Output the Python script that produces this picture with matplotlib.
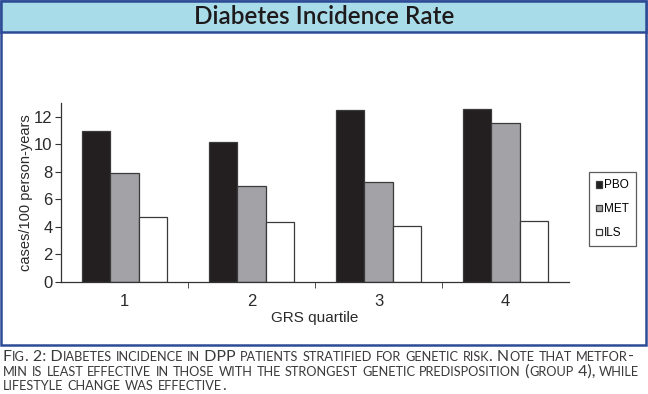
import numpy as np
import matplotlib
matplotlib.use('Agg')
import matplotlib.pyplot as plt
from matplotlib.patches import Rectangle
from matplotlib.font_manager import FontProperties

# ---- data ----
quartiles = ['1', '2', '3', '4']
groups = ['PBO', 'MET', 'ILS']
pbo = [11.0, 10.2, 12.5, 12.55]
met = [7.9, 7.0, 7.25, 11.55]
ils = [4.7, 4.35, 4.05, 4.45]
colors = ['#231f20', '#a3a3a7', '#ffffff']

title = 'Diabetes Incidence Rate'
caption = ['Fig. 2: Diabetes incidence in DPP patients stratified for genetic risk. Note that metfor-',
           'min is least effective in those with the strongest genetic predisposition (group 4), while',
           'lifestyle change was effective.']

W, H = 648, 394
fig = plt.figure(figsize=(W / 100., H / 100.), dpi=100)
fig.patch.set_facecolor('white')

def fx(px): return px / float(W)
def fy(py): return 1. - py / float(H)

blue = '#2c4a96'
# white panel with blue border, then title band (kept behind the axes)
fig.patches.append(Rectangle((fx(1), fy(345)), fx(645), (345 - 1) / float(H),
                             transform=fig.transFigure, facecolor='white',
                             edgecolor=blue, lw=1.8, zorder=-2))
fig.patches.append(Rectangle((fx(1), fy(31.5)), fx(645), 30.5 / H,
                             transform=fig.transFigure, facecolor='#a9dce9',
                             edgecolor=blue, lw=1.8, zorder=-1))
fig.text(0.5, fy(16.5), title, ha='center', va='center', fontsize=17.5,
         family='Lato', weight='semibold', color='#1e1a1b')

# ---- bar chart ----
ax = fig.add_axes([fx(61), fy(282), fx(569 - 61), (282 - 103) / float(H)])
ax.patch.set_alpha(0)
x = np.arange(len(quartiles))
bw = 0.224
for i, (vals, c) in enumerate(zip([pbo, met, ils], colors)):
    ax.bar(x + (i - 1) * bw, vals, bw, color=c, edgecolor='#3a3a3a',
           lw=0.9, label=groups[i])

ax.set_xlim(-0.5, 3.5)
ax.set_ylim(0, 13)
ax.set_yticks(range(0, 13, 2))
ax.set_xticks(x)
ax.set_xticklabels(quartiles)
ax.set_xticks(x[:-1] + 0.5, minor=True)
ax.tick_params(axis='x', which='major', length=0, pad=9)
ax.tick_params(axis='x', which='minor', length=4, direction='out', color='#333333')
ax.tick_params(axis='y', length=4, direction='out', color='#333333', pad=2)
for lab in ax.get_xticklabels() + ax.get_yticklabels():
    lab.set_family('Liberation Sans')
    lab.set_fontsize(12)
    lab.set_color('#2a2a2a')
for s in ['top', 'right']:
    ax.spines[s].set_visible(False)
for s in ['left', 'bottom']:
    ax.spines[s].set_color('#333333')
    ax.spines[s].set_linewidth(0.9)
ax.set_ylabel('cases/100 person-years', family='Liberation Sans', fontsize=10.5,
              color='#2a2a2a', labelpad=1)
ax.set_xlabel('GRS quartile', family='Liberation Sans', fontsize=11,
              color='#2a2a2a', labelpad=1)

leg = ax.legend(loc='upper left', bbox_to_anchor=(fx(583), fy(166.5)),
                bbox_transform=fig.transFigure, frameon=True, fancybox=False,
                handlelength=0.5, handleheight=0.5, handletextpad=0.15,
                borderpad=0.6, labelspacing=1.0,
                prop=FontProperties(family='Liberation Sans', size=8.5))
leg.get_frame().set_edgecolor('#333333')
leg.get_frame().set_linewidth(0.9)

# ---- caption in small caps ----
renderer = fig.canvas.get_renderer()
cap_family = 'Lato'
cap_color = '#3a3a3a'
ratio = 0.8

def runs(s):
    out = []
    for ch in s:
        small = ch.islower()
        if out and out[-1][1] == small:
            out[-1][0] += ch
        else:
            out.append([ch, small])
    return out

def twidth(s, size):
    fp = FontProperties(family=cap_family, size=size)
    w1 = renderer.get_text_width_height_descent('|' + s + '|', fp, ismath=False)[0]
    w0 = renderer.get_text_width_height_descent('||', fp, ismath=False)[0]
    return w1 - w0

def line_width(s, big):
    return sum(twidth(r.upper() if sm else r, big * (ratio if sm else 1.0))
               for r, sm in runs(s))

big = 9.0
big = big * (645 - 3) / line_width(caption[1], big)

def smallcaps(x0, ybase, s):
    xp = x0
    for r, sm in runs(s):
        txt = r.upper() if sm else r
        size = big * (ratio if sm else 1.0)
        fig.text(fx(xp), fy(ybase), txt, ha='left', va='baseline',
                 family=cap_family, fontsize=size, color=cap_color)
        xp += twidth(txt, size)

for k, line in enumerate(caption):
    smallcaps(3, 361 + k * 14.5, line)

fig.savefig('out.png', dpi=100)
